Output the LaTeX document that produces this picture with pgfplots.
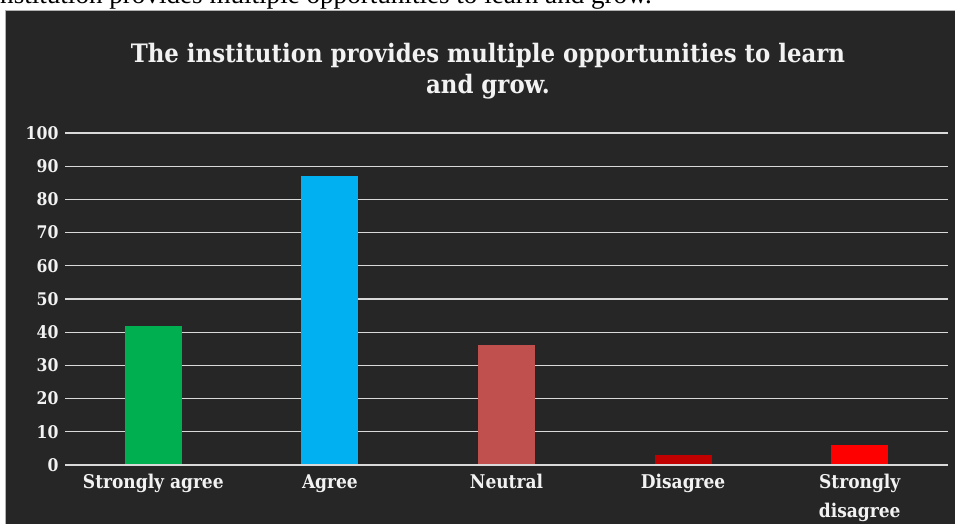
\documentclass[border=0pt]{standalone}
\usepackage{fontspec}
\setmainfont{DejaVu Serif Condensed}
\newfontfamily\topfont{Liberation Serif}
\usepackage{pgfplots}
\pgfplotsset{compat=1.18}
\definecolor{bg}{HTML}{262626}
\definecolor{gridc}{HTML}{D9D9D9}
\definecolor{txt}{HTML}{F2F2F2}
\definecolor{cSA}{HTML}{00B050}
\definecolor{cA}{HTML}{00B0F0}
\definecolor{cN}{HTML}{C0504D}
\definecolor{cD}{HTML}{C00000}
\definecolor{cSD}{HTML}{FF0000}
\begin{document}
\begin{tikzpicture}[x=1bp,y=1bp]
\useasboundingbox (0,0) rectangle (955,524);
\clip (0,0) rectangle (955,524);
\fill[white] (0,0) rectangle (955,524);
\node[anchor=base west, font=\topfont\fontsize{27.2}{30}\selectfont, inner sep=0] at (-9,520) {Institution provides multiple opportunities to learn and grow.};
\fill[bg] (5,0) rectangle (955,514);
\draw[gray!60, line width=0.8bp] (5.4,-1) -- (5.4,513.6) -- (956,513.6);
\node[anchor=base, font=\bfseries\fontsize{25.5}{32}\selectfont, text=txt, align=center, inner sep=0] at (488,430) {The institution provides multiple opportunities to learn\\and grow.};
\begin{axis}[
  at={(65bp,59bp)}, anchor=south west,
  scale only axis, width=883bp, height=332bp,
  xmin=-0.5, xmax=4.5, ymin=0, ymax=100,
  ytick={0,10,...,100},
  xtick={0,1,2,3,4},
  xticklabels={Strongly agree, Agree, Neutral, Disagree, Strongly\\disagree},
  ymajorgrids, xmajorgrids=false, grid style={gridc, line width=1.2bp},
  axis line style={draw=none},
  major tick length=0pt,
  /pgf/number format/assume math mode=true,
  yticklabel style={font=\bfseries\fontsize{17.5}{20}\selectfont, text=txt, xshift=-3bp},
  xticklabel style={font=\bfseries\fontsize{19}{29}\selectfont, text=txt, align=center, yshift=-6bp},
  ybar, bar width=57bp, bar shift=0pt,
  clip=false,
]
\addplot[fill=cSA, draw=none] coordinates {(0,42)};
\addplot[fill=cA, draw=none] coordinates {(1,87)};
\addplot[fill=cN, draw=none] coordinates {(2,36)};
\addplot[fill=cD, draw=none] coordinates {(3,3)};
\addplot[fill=cSD, draw=none] coordinates {(4,6)};
\draw[gridc, line width=1.6bp] (axis cs:-0.5,0) -- (axis cs:4.5,0);
\end{axis}
\end{tikzpicture}
\end{document}
